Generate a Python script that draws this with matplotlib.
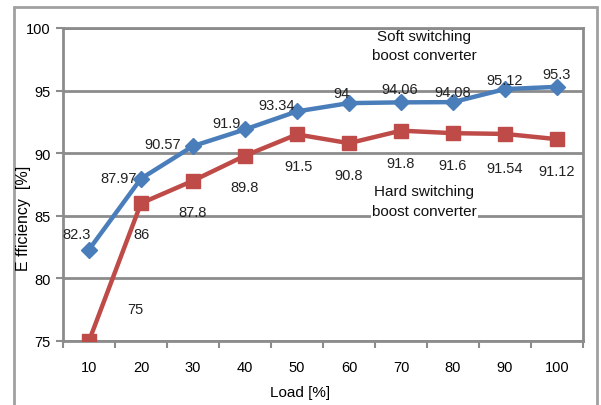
import matplotlib
matplotlib.use('Agg')
import matplotlib.pyplot as plt
from matplotlib.patches import Rectangle

# --- Data ---
LOADS = [10, 20, 30, 40, 50, 60, 70, 80, 90, 100]
SOFT = [82.3, 87.97, 90.57, 91.9, 93.34, 94, 94.06, 94.08, 95.12, 95.3]
HARD = [75, 86, 87.8, 89.8, 91.5, 90.8, 91.8, 91.6, 91.54, 91.12]

# label offsets in pixels (dx, dy) relative to each point
SOFT_OFFSETS = [(-12, 16), (-22, 1), (-30, 2), (-18, 6), (-20, 6),
                (-7, 10), (-1, 13), (0, 10), (0, 9), (0, 13)]
HARD_OFFSETS = [(46, 32), (0, -31), (0, -31), (0, -31), (2, -32),
                (0, -32), (0, -32), (0, -32), (0, -34), (0, -32)]

BLUE = '#4A7EBB'
RED = '#BE4B48'
GRID = '#8C8C8C'
FONT = ['Liberation Sans Narrow', 'Liberation Sans', 'DejaVu Sans']

plt.rcParams['font.family'] = FONT

W, H = 601, 406
fig = plt.figure(figsize=(W / 100, H / 100), dpi=100)
ax = fig.add_axes([63 / W, (H - 342) / H, 520 / W, 313 / H])

x = list(range(len(LOADS)))

ax.plot(x, SOFT, color=BLUE, lw=3.2, marker='D', ms=8, zorder=3)
ax.plot(x, HARD, color=RED, lw=3.2, marker='s', ms=9.5, zorder=3)

for xi, v, (dx, dy) in zip(x, SOFT, SOFT_OFFSETS):
    ax.annotate(f'{v:g}', (xi, v), xytext=(dx, dy), textcoords='offset pixels',
                ha='center', va='center', fontsize=10.5, color='#222222', zorder=4)
for xi, v, (dx, dy) in zip(x, HARD, HARD_OFFSETS):
    ax.annotate(f'{v:g}', (xi, v), xytext=(dx, dy), textcoords='offset pixels',
                ha='center', va='center', fontsize=10.5, color='#222222', zorder=4)

ax.set_xlim(-0.5, len(LOADS) - 0.5)
ax.set_ylim(75, 100)
ax.set_yticks([75, 80, 85, 90, 95, 100])
ax.set_xticks(x)
ax.set_xticklabels([str(v) for v in LOADS])
ax.set_xticks([i - 0.5 for i in range(len(LOADS) + 1)], minor=True)

ax.tick_params(axis='x', which='major', length=0, pad=14, labelsize=10.5)
ax.tick_params(axis='x', which='minor', length=5, width=1.5, color=GRID, direction='out')
ax.tick_params(axis='y', length=5, width=1.5, color=GRID, direction='out', labelsize=10.5, pad=4)

ax.grid(axis='y', color=GRID, lw=2)
ax.set_axisbelow(True)
for s in ax.spines.values():
    s.set_color(GRID)
    s.set_linewidth(2)

# series captions
ax.text(6.45, 98.6, 'Soft switching\nboost converter', ha='center', va='center',
        fontsize=11, linespacing=1.5, color='#111111')
ax.text(6.45, 86.2, 'Hard switching\nboost converter', ha='center', va='center',
        fontsize=11, linespacing=1.5, color='#111111',
        bbox=dict(facecolor='white', edgecolor='none', pad=1))

fig.text(300 / W, 1 - 393 / H, 'Load [%]', ha='center', va='center', fontsize=11)
fig.text(24 / W, 1 - 218 / H, 'E fficiency  [%]', ha='center', va='center',
         rotation=90, fontsize=11.5)

# outer chart frame
fig.patches.append(Rectangle((14 / W, -0.05), (597 - 14) / W, 1.05 - 8 / H,
                             transform=fig.transFigure, fill=False,
                             edgecolor='#A0A0A0', lw=2))

fig.savefig('out.png', dpi=100)
